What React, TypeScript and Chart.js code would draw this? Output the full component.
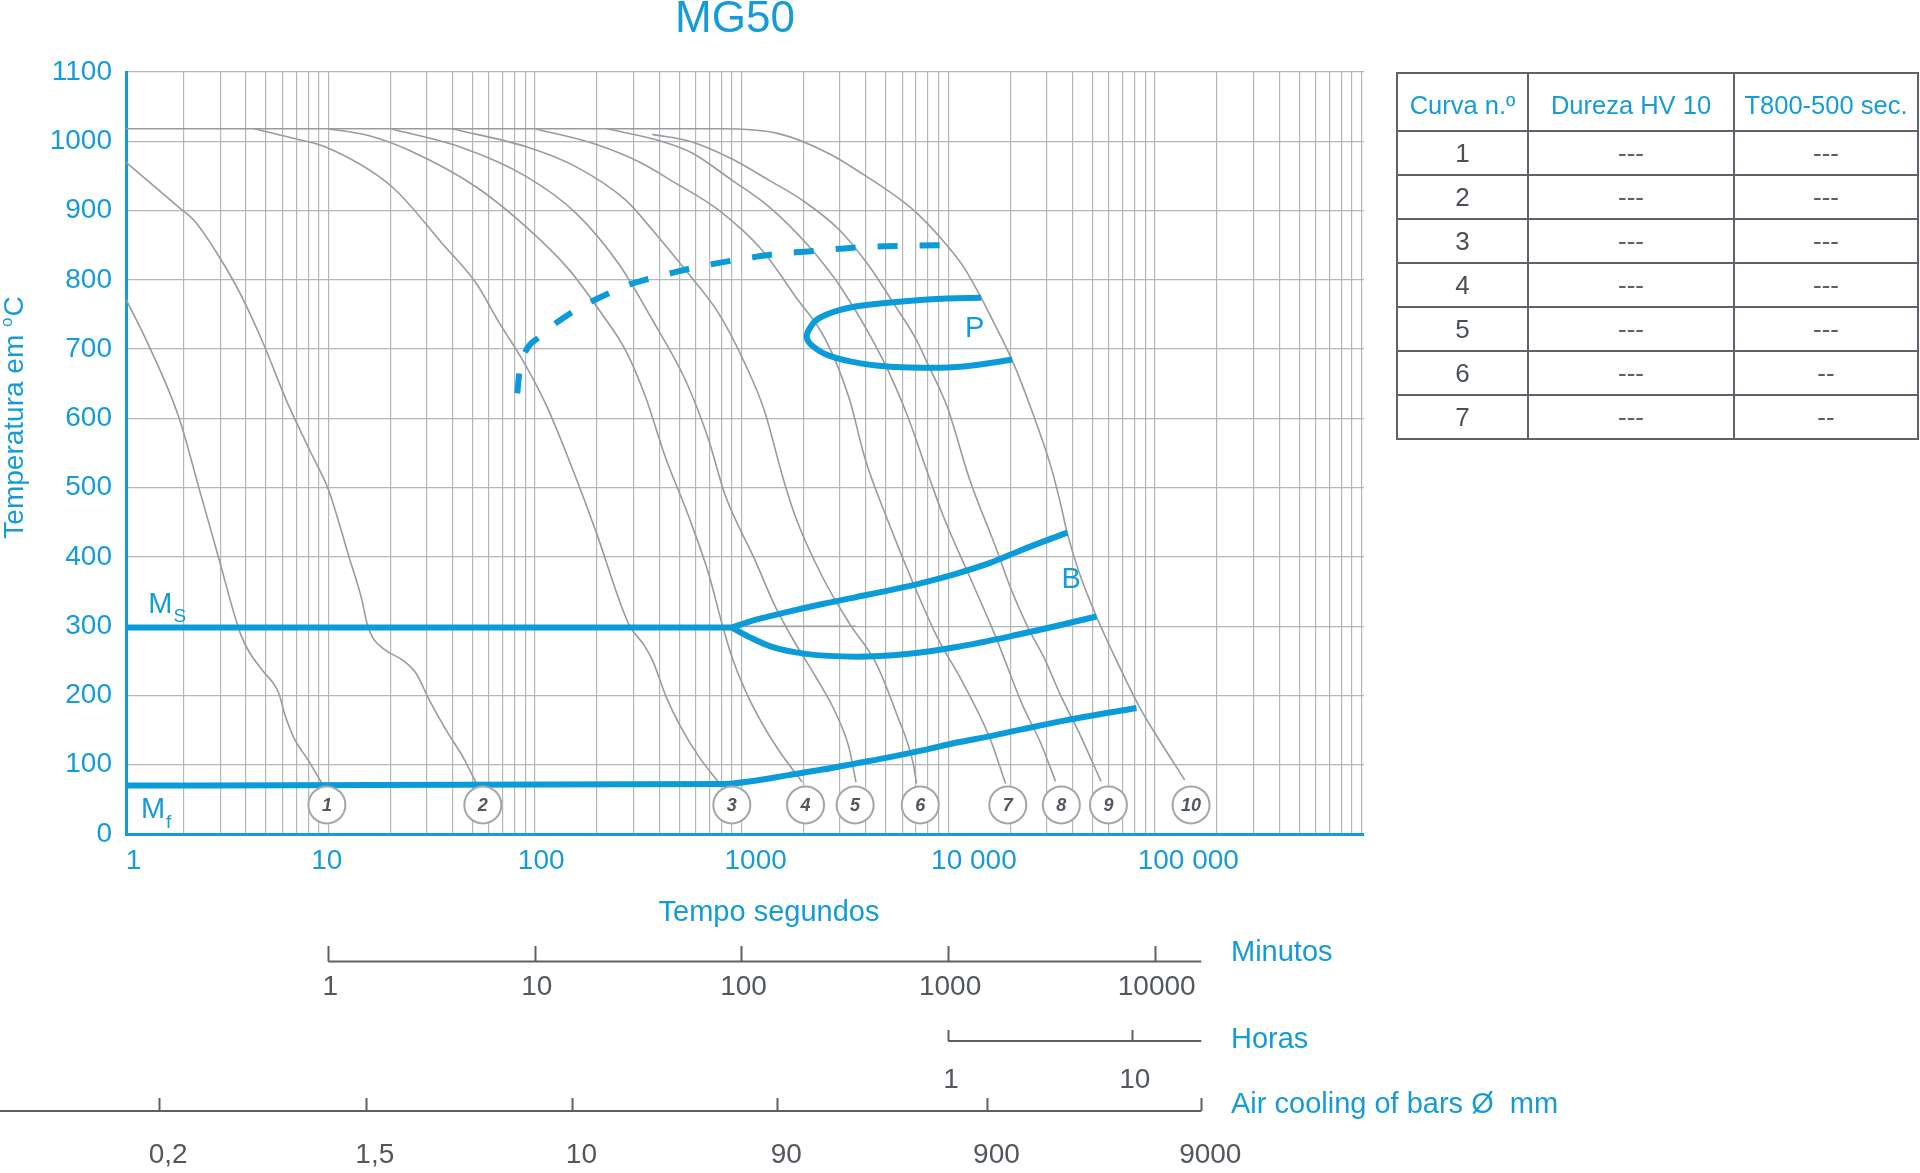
import React, { useEffect, useRef } from 'react';
import { Chart, registerables } from 'chart.js';

Chart.register(...registerables);

const FONT = '"Liberation Sans", Arial, Helvetica, sans-serif';
const BLUE = '#159bd7';
const LINE_BLUE = '#0b9bd9';
const CURVE_GRAY = '#989b9f';
const GRID_GRAY = '#b4b7ba';
const AXIS_GRAY = '#5c6167';
const TEXT_GRAY = '#52575d';

// ---- axis ticks ----
const xTickLabels = ['1', '10', '100', '1000', '10 000', '100 000'];
const xGridMantissas = [1, 2, 3, 4, 5, 6, 7, 8, 9];
const xMin = 1.05;
const xMax = 1.03e6;
const yTickStep = 100;

// ---- cooling curves (time in s, temperature in °C) ----
const c1Time = [1, 1.34, 1.89, 2.36, 2.94, 3.75, 4.16, 4.84, 5.75, 6.17, 6.84, 7.98, 9.29];
const c1Temp = [784, 708, 602, 501, 400, 290, 262, 235, 204, 172, 138, 107, 74];

const c2Time = [1, 1.92, 2.24, 2.9, 3.75, 4.85, 6.27, 8.13, 10.05, 12.6, 14.55, 15.4, 16.3, 19.0, 22.9, 26.6, 30.9, 37.2, 44.9, 52.1];
const c2Temp = [975, 903, 886, 838, 780, 708, 626, 554, 496, 400, 338, 304, 285, 265, 251, 232, 193, 150, 111, 73];

const c3Time = [4.37, 6.61, 9.66, 20.4, 35.7, 52.0, 67.5, 87.7, 114, 153, 199, 263, 288, 339, 372, 432, 501, 624, 773];
const c3Temp = [1018, 1005, 992, 934, 852, 795, 737, 683, 618, 525, 434, 328, 300, 272, 250, 198, 158, 111, 75];

const c4Time = [10, 15.8, 24.6, 52.0, 91.0, 147, 205, 275, 344, 427, 556, 693, 804, 898, 1040, 1256, 1514, 1968];
const c4Temp = [1018, 1008, 987, 934, 876, 814, 756, 698, 630, 545, 458, 376, 304, 256, 208, 160, 121, 75];

const c5Time = [20.0, 43.2, 91.0, 158.5, 255.9, 370.7, 535.8, 691.8, 831.8, 1164, 1459, 1824, 2286, 2864, 3311, 3581];
const c5Temp = [1018, 992, 949, 896, 822, 742, 655, 570, 490, 395, 328, 275, 227, 174, 125, 75];

const c6Time = [39.8, 91.0, 158.5, 275.4, 370.7, 535.8, 774.5, 1040, 1288, 1585, 1824, 2466, 3327, 4487, 5623, 6776, 7031];
const c6Temp = [1018, 992, 963, 915, 872, 814, 752, 679, 612, 515, 458, 371, 304, 246, 174, 102, 73];

const c7Time = [100, 190.5, 331.1, 452.9, 772.7, 1256, 1824, 2559, 3311, 3981, 5023, 6776, 8831, 11858, 15849, 18967];
const c7Temp = [1018, 997, 968, 944, 901, 843, 776, 713, 630, 540, 458, 362, 285, 217, 140, 73];

const c8Time = [223.9, 398.1, 576.8, 897.5, 1352, 2123, 3090, 4842, 6295, 8185, 9506, 12735, 16982, 22699, 28184, 33113];
const c8Temp = [1018, 1001, 983, 944, 906, 848, 785, 684, 607, 511, 458, 371, 285, 189, 130, 76];

const c9Time = [370, 577, 891, 1355, 1968, 2979, 4169, 5445, 7031, 7870, 9886, 12735, 16943, 19953, 24266, 29512, 34674, 43251, 54954];
const c9Temp = [1010, 999, 975, 944, 915, 872, 819, 766, 713, 682, 617, 511, 415, 357, 299, 251, 203, 145, 76];

const c10Time = [1, 794, 1514, 2661, 3846, 5623, 7079, 9863, 11858, 14454, 16982, 20417, 25351, 31477, 34674, 37757, 43251, 52240, 63533, 84140, 104954, 139637];
const c10Temp = [1018, 1018, 1011, 982, 953, 920, 896, 850, 819, 774, 733, 684, 612, 530, 482, 434, 376, 314, 258, 184, 136, 78];

// ---- transformation lines ----
const psTime = [82.2, 84.1, 89.3, 105.7, 125.9, 152.8, 186.2, 234.4, 291.1, 363.1, 462.4, 576.8, 732.8, 912, 1161, 1452, 1862, 2344, 3020, 3802, 5012, 7079, 9840];
const psTemp = [636, 665, 694, 718, 737, 754, 768, 782, 794, 802, 810, 817, 823, 828, 833, 837, 840, 842, 845, 847, 848.5, 849.5, 850];

const pTime = [14454, 9863, 5623, 3846, 2951, 2355, 2138, 2070, 2178, 2630, 3846, 5623, 8185, 11858, 16982, 20417];
const pTemp = [774, 773, 768, 763, 756, 744, 730, 717, 706, 691, 679, 674, 673, 675, 681, 685];

const msTime = [1, 898];
const msTemp = [298, 298];
const msThinTime = [898, 3589];
const msThinTemp = [300, 300];

const bUpperTime = [898, 1164, 1694, 2466, 3589, 5224, 7603, 11015, 15849, 22699, 28840, 37757];
const bUpperTemp = [298, 309, 321, 332, 342, 352, 363, 376, 391, 410, 422, 435];
const bLowerTime = [898, 1081, 1406, 2042, 3589, 6310, 11015, 22699, 35481, 52240];
const bLowerTemp = [298, 285, 270, 260, 256, 260, 270, 289, 302, 314];

const mfTime = [1, 800, 1164, 1694, 2466, 3589, 5224, 7603, 11015, 15849, 22699, 37000, 81658];
const mfTemp = [70, 72, 77, 85, 93, 102, 111, 121, 132, 141, 151, 164, 182];

// ---- curve number markers ----
const curveNumbers = ['1', '2', '3', '4', '5', '6', '7', '8', '9', '10'];
const markerTime = [9.85, 56.0, 898, 2042, 3548, 7330, 19450, 35320, 59700, 149900];
const markerTemp = [42, 42, 42, 42, 42, 42, 42, 42, 42, 42];

// ---- phase labels (x = s, y = °C at baseline) ----
const phaseLabels = ['P', 'B'];
const phaseLabelTime = [13430, 39360];
const phaseLabelTemp = [718, 355];
const msLabelPos = [1.345, 318.6];
const mfLabelPos = [1.24, 22.7];

// ---- auxiliary scales (positions expressed on the seconds axis) ----
const minuteLabels = ['1', '10', '100', '1000', '10000'];
const minuteTickPos = [10, 100, 1000, 10000, 100000];
const hourLabels = ['1', '10'];
const hourTickPos = [10000, 77500];
const airLabels = ['0,2', '1,5', '10', '90', '900', '9000'];
const airTickPos = [1.52, 15.2, 152, 1490, 15500, 168000];
const auxAxisEnd = 168000;

// ---- table ----
const tableHeader = ['Curva n.º', 'Dureza HV 10', 'T800-500 sec.'];
const tableCurve = ['1', '2', '3', '4', '5', '6', '7'];
const tableHardness = ['---', '---', '---', '---', '---', '---', '---'];
const tableT85 = ['---', '---', '---', '---', '---', '--', '--'];

const pts = (xs: number[], ys: number[]) => xs.map((x, i) => ({ x, y: ys[i] }));

const grayCurve = (xs: number[], ys: number[]) => ({
  data: pts(xs, ys),
  showLine: true,
  borderColor: CURVE_GRAY,
  borderWidth: 1.6,
  pointRadius: 0,
  fill: false,
  cubicInterpolationMode: 'monotone',
});

const blueLine = (xs: number[], ys: number[], extra: any = {}) => ({
  data: pts(xs, ys),
  showLine: true,
  borderColor: LINE_BLUE,
  borderWidth: 6,
  pointRadius: 0,
  fill: false,
  borderCapStyle: 'butt',
  cubicInterpolationMode: 'monotone',
  ...extra,
});

function drawAux(ctx: CanvasRenderingContext2D, px: (v: number) => number) {
  const endX = px(auxAxisEnd);
  ctx.strokeStyle = AXIS_GRAY;
  ctx.lineWidth = 2;
  ctx.fillStyle = TEXT_GRAY;
  ctx.font = `28px ${FONT}`;
  ctx.textAlign = 'center';
  ctx.textBaseline = 'alphabetic';

  // Minutos
  ctx.beginPath();
  ctx.moveTo(px(minuteTickPos[0]), 961.5);
  ctx.lineTo(endX, 961.5);
  minuteTickPos.forEach((v) => {
    const x = Math.round(px(v)) + 0.5;
    ctx.moveTo(x, 946);
    ctx.lineTo(x, 961.5);
  });
  ctx.stroke();
  minuteTickPos.forEach((v, i) => ctx.fillText(minuteLabels[i], px(v) + 2, 995));

  // Horas
  ctx.beginPath();
  ctx.moveTo(px(hourTickPos[0]), 1041);
  ctx.lineTo(endX, 1041);
  hourTickPos.forEach((v) => {
    const x = Math.round(px(v)) + 0.5;
    ctx.moveTo(x, 1030);
    ctx.lineTo(x, 1041);
  });
  ctx.stroke();
  hourTickPos.forEach((v, i) => ctx.fillText(hourLabels[i], px(v) + 3, 1088));

  // Air cooling
  ctx.beginPath();
  ctx.moveTo(0, 1111);
  ctx.lineTo(endX, 1111);
  airTickPos.forEach((v) => {
    const x = Math.round(px(v)) + 0.5;
    ctx.moveTo(x, 1098);
    ctx.lineTo(x, 1111);
  });
  ctx.stroke();
  airTickPos.forEach((v, i) => ctx.fillText(airLabels[i], px(v) + 9, 1163));

  ctx.fillStyle = BLUE;
  ctx.font = `29px ${FONT}`;
  ctx.textAlign = 'left';
  ctx.fillText('Minutos', 1231, 961);
  ctx.fillText('Horas', 1231, 1048);
  ctx.fillText('Air cooling of bars Ø  mm', 1231, 1113);
}

const extrasPlugin = {
  id: 'extras',
  afterDraw(chart: any) {
    const ctx: CanvasRenderingContext2D = chart.ctx;
    const xs = chart.scales.x;
    const ys = chart.scales.y;
    const px = (v: number) => xs.getPixelForValue(v);
    const py = (v: number) => ys.getPixelForValue(v);
    ctx.save();

    // title
    ctx.fillStyle = BLUE;
    ctx.textAlign = 'center';
    ctx.textBaseline = 'alphabetic';
    ctx.font = `44px ${FONT}`;
    ctx.fillText('MG50', 735, 32);

    // x title
    ctx.font = `29px ${FONT}`;
    ctx.fillText('Tempo segundos', 769, 921);

    // y title (rotated)
    ctx.save();
    ctx.translate(23, 418);
    ctx.rotate(-Math.PI / 2);
    ctx.textAlign = 'left';
    ctx.font = `28px ${FONT}`;
    const main = 'Temperatura em ';
    const wMain = ctx.measureText(main).width;
    const wC = ctx.measureText('C').width;
    ctx.font = `17px ${FONT}`;
    const wO = ctx.measureText('o').width;
    const start = -(wMain + wO + wC) / 2;
    ctx.font = `28px ${FONT}`;
    ctx.fillText(main, start, 0);
    ctx.fillText('C', start + wMain + wO + 1, 0);
    ctx.font = `17px ${FONT}`;
    ctx.fillText('o', start + wMain, -11);
    ctx.restore();

    // phase labels
    ctx.fillStyle = BLUE;
    ctx.textAlign = 'center';
    ctx.font = `29px ${FONT}`;
    phaseLabels.forEach((t, i) => ctx.fillText(t, px(phaseLabelTime[i]), py(phaseLabelTemp[i])));

    // Ms / Mf
    ctx.textAlign = 'left';
    const drawM = (pos: number[], sub: string, subDrop: number) => {
      const x = px(pos[0]);
      const y = py(pos[1]);
      ctx.font = `29px ${FONT}`;
      ctx.fillText('M', x, y);
      const w = ctx.measureText('M').width;
      ctx.font = `19px ${FONT}`;
      ctx.fillText(sub, x + w + 1, y + subDrop);
    };
    drawM(msLabelPos, 'S', 9);
    drawM(mfLabelPos, 'f', 10);

    // curve numbers inside circles
    const meta = chart.getDatasetMeta(0);
    ctx.fillStyle = TEXT_GRAY;
    ctx.textAlign = 'center';
    ctx.textBaseline = 'middle';
    ctx.font = `italic bold 18px ${FONT}`;
    meta.data.forEach((pt: any, i: number) => ctx.fillText(curveNumbers[i], pt.x, pt.y + 1));
    ctx.textBaseline = 'alphabetic';

    drawAux(ctx, px);
    ctx.restore();
  },
};

function buildConfig() {
  const xGrid: number[] = [];
  for (let e = 0; e < 6; e++) xGridMantissas.forEach((m) => xGrid.push(m * Math.pow(10, e)));
  xGrid.push(1e6);

  const datasets: any[] = [
    {
      data: pts(markerTime, markerTemp),
      showLine: false,
      pointRadius: 18.5,
      pointBackgroundColor: '#ffffff',
      pointBorderColor: '#a4a7aa',
      pointBorderWidth: 2,
      clip: false,
    },
    blueLine(pTime, pTemp, { cubicInterpolationMode: 'default', tension: 0.4 }),
    blueLine(msTime, msTemp, { tension: 0, cubicInterpolationMode: 'default' }),
    blueLine(bUpperTime, bUpperTemp),
    blueLine(bLowerTime, bLowerTemp),
    blueLine(mfTime, mfTemp),
    blueLine(psTime, psTemp, { borderDash: [20, 22] }),
    {
      data: pts(msThinTime, msThinTemp),
      showLine: true,
      borderColor: CURVE_GRAY,
      borderWidth: 1.2,
      pointRadius: 0,
    },
    grayCurve(c10Time, c10Temp),
    grayCurve(c9Time, c9Temp),
    grayCurve(c8Time, c8Temp),
    grayCurve(c7Time, c7Temp),
    grayCurve(c6Time, c6Temp),
    grayCurve(c5Time, c5Temp),
    grayCurve(c4Time, c4Temp),
    grayCurve(c3Time, c3Temp),
    grayCurve(c2Time, c2Temp),
    grayCurve(c1Time, c1Temp),
  ];

  return {
    type: 'scatter',
    data: { datasets },
    options: {
      responsive: false,
      animation: false,
      devicePixelRatio: 1,
      events: [],
      layout: { padding: { top: 72, right: 556, bottom: 0, left: 0 } },
      plugins: { legend: { display: false }, tooltip: { enabled: false }, title: { display: false } },
      scales: {
        x: {
          type: 'logarithmic',
          position: 'bottom',
          min: xMin,
          max: xMax,
          afterBuildTicks: (s: any) => {
            s.ticks = xGrid.map((v) => ({ value: v }));
          },
          afterFit: (s: any) => {
            s.height = 339;
          },
          grid: {
            color: (c: any) => (c.tick && c.tick.value < xMin ? 'rgba(0,0,0,0)' : GRID_GRAY),
            lineWidth: 1.2,
            drawTicks: false,
          },
          border: { color: BLUE, width: 3 },
          ticks: {
            autoSkip: false,
            maxRotation: 0,
            minRotation: 0,
            align: 'start',
            labelOffset: -17,
            padding: 10,
            color: BLUE,
            font: { family: FONT, size: 28 },
            callback: (value: number) => {
              const e = Math.log10(value);
              const r = Math.round(e);
              if (Math.abs(e - r) < 1e-9 && r < xTickLabels.length) {
                return (r === 0 ? '\u2007\u2009' : '') + xTickLabels[r];
              }
              return '';
            },
          },
        },
        y: {
          type: 'linear',
          min: 0,
          max: 1100,
          afterFit: (s: any) => {
            s.width = 126;
          },
          grid: {
            color: (c: any) => (c.tick && c.tick.value === 0 ? 'rgba(0,0,0,0)' : GRID_GRAY),
            lineWidth: 1.2,
            drawTicks: false,
          },
          border: { color: BLUE, width: 3 },
          ticks: {
            stepSize: yTickStep,
            padding: 14,
            color: BLUE,
            font: { family: FONT, size: 28 },
            callback: (value: number) => String(value),
          },
        },
      },
    },
    plugins: [extrasPlugin],
  };
}

const cellBase: React.CSSProperties = {
  border: '2px solid #5d6268',
  padding: 0,
  textAlign: 'center',
  verticalAlign: 'middle',
  fontWeight: 'normal',
};

export default function App() {
  const canvasRef = useRef<HTMLCanvasElement | null>(null);

  useEffect(() => {
    if (!canvasRef.current) return;
    const chart = new Chart(canvasRef.current, buildConfig() as any);
    return () => chart.destroy();
  }, []);

  return (
    <div
      style={{
        position: 'absolute',
        left: 0,
        top: 0,
        width: 1920,
        height: 1173,
        background: '#ffffff',
        overflow: 'hidden',
        fontFamily: FONT,
      }}
    >
      <canvas
        ref={canvasRef}
        width={1920}
        height={1173}
        style={{ position: 'absolute', left: 0, top: 0, width: 1920, height: 1173 }}
      />
      <table
        style={{
          position: 'absolute',
          left: 1396,
          top: 72,
          width: 521,
          borderCollapse: 'collapse',
          tableLayout: 'fixed',
          fontFamily: FONT,
        }}
      >
        <colgroup>
          <col style={{ width: 131 }} />
          <col style={{ width: 206 }} />
          <col style={{ width: 184 }} />
        </colgroup>
        <thead>
          <tr style={{ height: 58 }}>
            {tableHeader.map((h) => (
              <th key={h} style={{ ...cellBase, color: BLUE, fontSize: 25.5, paddingTop: 6 }}>
                {h}
              </th>
            ))}
          </tr>
        </thead>
        <tbody>
          {tableCurve.map((c, i) => (
            <tr key={c} style={{ height: 44 }}>
              <td style={{ ...cellBase, color: '#4b5056', fontSize: 26 }}>{c}</td>
              <td style={{ ...cellBase, color: '#5b6066', fontSize: 26 }}>{tableHardness[i]}</td>
              <td style={{ ...cellBase, color: '#5b6066', fontSize: 26 }}>{tableT85[i]}</td>
            </tr>
          ))}
        </tbody>
      </table>
    </div>
  );
}
